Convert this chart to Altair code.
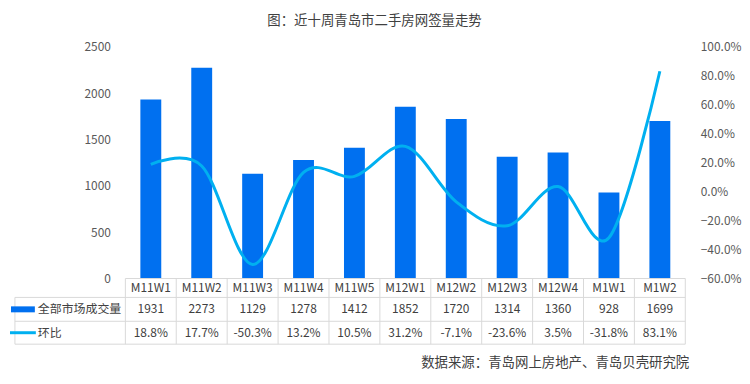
import altair as alt
import pandas as pd

# ---------------- data ----------------
CATEGORIES = ["M11W1", "M11W2", "M11W3", "M11W4", "M11W5", "M12W1",
              "M12W2", "M12W3", "M12W4", "M1W1", "M1W2"]
VOLUME = [1931, 2273, 1129, 1278, 1412, 1852, 1720, 1314, 1360, 928, 1699]
MOM = [18.8, 17.7, -50.3, 13.2, 10.5, 31.2, -7.1, -23.6, 3.5, -31.8, 83.1]
SERIES = ["全部市场成交量", "环比"]
TITLE = "图：近十周青岛市二手房网签量走势"
SOURCE = "数据来源：青岛网上房地产、青岛贝壳研究院"
VOL_TICKS = [0, 500, 1000, 1500, 2000, 2500]
MOM_TICKS = [-60, -40, -20, 0, 20, 40, 60, 80, 100]

# ---------------- style / layout ----------------
BAR = "#0070F0"
LINE = "#00B0F0"
GRID = "#D9D9D9"
TXT = "#404040"
AX = "#595959"
FONT = "Noto Sans CJK SC"

W, H = 573, 233
n = len(CATEGORIES)
STEP = W / n
LABEL_COL = 113 / STEP          # width of the table's label column, in column units
ROW_H = [19, 24, 23]            # table row heights (px)
TABLE_H = sum(ROW_H)
edges = [0, ROW_H[0], ROW_H[0] + ROW_H[1], TABLE_H]
centers = [(edges[i] + edges[i + 1]) / 2 for i in range(3)]

main = pd.DataFrame({
    "cat": CATEGORIES,
    "xc": [i + 0.5 for i in range(n)],
    "vol": VOLUME,
    "mom": MOM,
})

xs = alt.Scale(domain=[0, n], nice=False, zero=False)
x_enc = alt.X("xc:Q", scale=xs, axis=None)
ty_scale = alt.Scale(domain=[0, TABLE_H], range=[H, H + TABLE_H], nice=False, zero=False)

axis_common = dict(ticks=False, domain=False, grid=False, labelPadding=10,
                   labelFont=FONT, labelFontSize=12, labelColor=AX, title=None)

bars = alt.Chart(main).mark_bar(size=21, color=BAR).encode(
    x=x_enc,
    y=alt.Y("vol:Q", scale=alt.Scale(domain=[0, 2500], nice=False),
            axis=alt.Axis(values=VOL_TICKS, format="d", **axis_common)),
)

line = alt.Chart(main).mark_line(color=LINE, strokeWidth=3, interpolate="cardinal").encode(
    x=x_enc,
    y=alt.Y("mom:Q", scale=alt.Scale(domain=[-60, 100], nice=False, zero=False),
            axis=alt.Axis(orient="right", values=MOM_TICKS,
                          labelExpr="format(datum.value, '.1f') + '%'", **axis_common)),
)

# ---------------- table ----------------
grid_rows = []
grid_rows.append({"x": 0, "x2": n, "ty": edges[0], "ty2": edges[0]})
for e in edges[1:]:
    grid_rows.append({"x": -LABEL_COL, "x2": n, "ty": e, "ty2": e})
grid_rows.append({"x": -LABEL_COL, "x2": -LABEL_COL, "ty": edges[1], "ty2": edges[3]})
for i in range(n + 1):
    grid_rows.append({"x": i, "x2": i, "ty": edges[0], "ty2": edges[3]})
grid_df = pd.DataFrame(grid_rows)

grid = alt.Chart(grid_df).mark_rule(color=GRID, strokeWidth=1).encode(
    x=alt.X("x:Q", scale=xs, axis=None),
    x2="x2:Q",
    y=alt.Y("ty:Q", scale=ty_scale, axis=None),
    y2="ty2:Q",
)

cell_rows = []
for i, c in enumerate(CATEGORIES):
    cell_rows.append({"xc": i + 0.5, "ty": centers[0], "t": c})
for i, v in enumerate(VOLUME):
    cell_rows.append({"xc": i + 0.5, "ty": centers[1], "t": str(v)})
for i, v in enumerate(MOM):
    cell_rows.append({"xc": i + 0.5, "ty": centers[2], "t": f"{v:.1f}%"})
cells_df = pd.DataFrame(cell_rows)

cells = alt.Chart(cells_df).mark_text(font=FONT, fontSize=12, color=TXT, baseline="middle").encode(
    x=alt.X("xc:Q", scale=xs, axis=None),
    y=alt.Y("ty:Q", scale=ty_scale, axis=None),
    text="t:N",
)

labels_df = pd.DataFrame({"ty": [centers[1], centers[2]], "t": SERIES})
labels = alt.Chart(labels_df).mark_text(font=FONT, fontSize=12, color=TXT, align="left",
                                        baseline="middle").encode(
    x=alt.value(-83),
    y=alt.Y("ty:Q", scale=ty_scale, axis=None),
    text="t:N",
)

sw_bar = alt.Chart(labels_df.iloc[[0]]).mark_rule(color=BAR, strokeWidth=6).encode(
    x=alt.value(-110), x2=alt.value(-86),
    y=alt.Y("ty:Q", scale=ty_scale, axis=None),
)
sw_line = alt.Chart(labels_df.iloc[[1]]).mark_rule(color=LINE, strokeWidth=3).encode(
    x=alt.value(-111), x2=alt.value(-85),
    y=alt.Y("ty:Q", scale=ty_scale, axis=None),
)

source = alt.Chart(pd.DataFrame({"t": [SOURCE]})).mark_text(
    font=FONT, fontSize=13.5, color=TXT, align="right", baseline="middle").encode(
    x=alt.value(W - 1), y=alt.value(H + 85), text="t:N")

chart = alt.layer(bars, line, grid, cells, labels, sw_bar, sw_line, source).resolve_scale(
    y="independent"
).properties(
    width=W, height=H,
    padding={"left": 0, "top": 5, "right": 0, "bottom": 0},
    title=alt.TitleParams(TITLE, font=FONT, fontSize=13.5, color=TXT, fontWeight="normal",
                          frame="bounds", anchor="middle", offset=13),
).configure_view(stroke=None)

chart.save("out.html", embed_options={"renderer": "svg", "actions": False})
